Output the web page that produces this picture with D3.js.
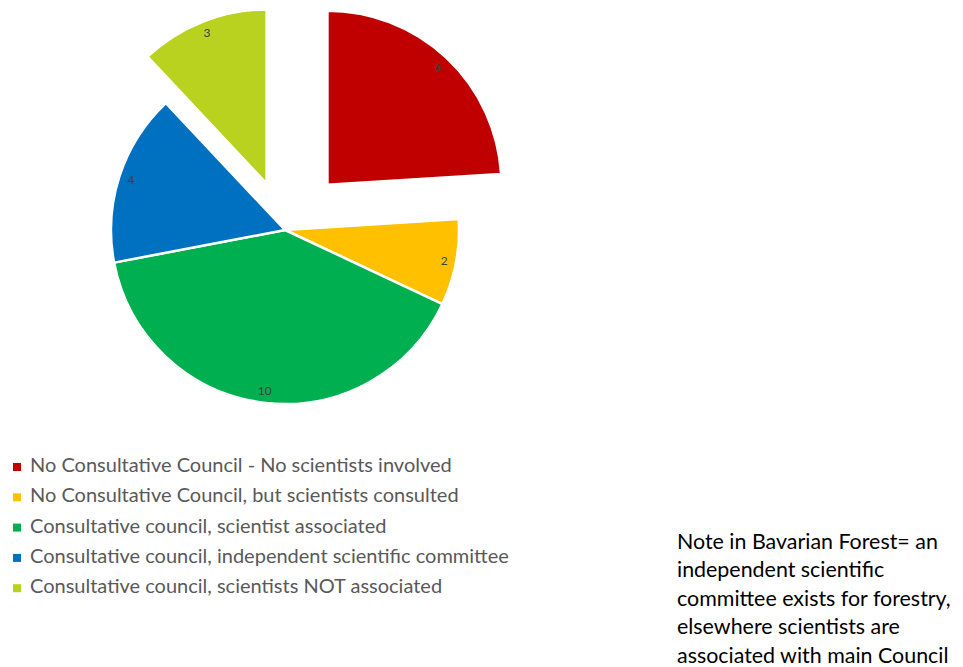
<!DOCTYPE html>
<html>
<head>
<meta charset="utf-8">
<script src="https://cdn.jsdelivr.net/npm/d3@7"></script>
<style>
  body { margin: 0; background: #fff; }
  svg { display: block; }
</style>
</head>
<body>
<div class="chart"></div>
<script>
const categories = [
    "No Consultative Council - No scientists involved",
    "No Consultative Council, but scientists consulted",
    "Consultative council, scientist associated",
    "Consultative council, independent scientific committee",
    "Consultative council, scientists NOT associated"
];
const counts = [6, 2, 10, 4, 3];
const colors = ["#C00000", "#FFC000", "#00B050", "#0070C0", "#B9D11F"];
const explode = [62, 0, 0, 0, 50];
const noteLines = [
    "Note in Bavarian Forest= an",
    "independent scientific",
    "committee exists for forestry,",
    "elsewhere scientists are",
    "associated with main Council"
];

const svgWidth = 963, svgHeight = 667;
const cx = 285, cy = 230, radius = 174;
const fontFamily = "Lato, 'Open Sans', sans-serif";

var svg = d3.select(".chart").append("svg")
    .attr("width", svgWidth)
    .attr("height", svgHeight);

var pie = d3.pie().sort(null).value(function (d) { return d.value; });
var arc = d3.arc().innerRadius(0).outerRadius(radius);
var labelArc = d3.arc().innerRadius(162).outerRadius(162);

var slices = pie(counts.map(function (v, i) {
    return { value: v, color: colors[i], explode: explode[i] };
}));

var sliceGroup = svg.selectAll("g.slice")
    .data(slices)
    .enter().append("g")
    .attr("class", "slice")
    .attr("transform", function (d) {
        var mid = (d.startAngle + d.endAngle) / 2;
        var dx = Math.sin(mid) * d.data.explode;
        var dy = -Math.cos(mid) * d.data.explode;
        return "translate(" + [cx + dx, cy + dy] + ")";
    });

sliceGroup.append("path")
    .attr("d", arc)
    .attr("fill", function (d) { return d.data.color; })
    .attr("stroke", "#fff")
    .attr("stroke-width", 2.5)
    .attr("stroke-linejoin", "round");

sliceGroup.append("text")
    .text(function (d) { return d.data.value; })
    .attr("x", function (d) { return labelArc.centroid(d)[0]; })
    .attr("y", function (d) { return labelArc.centroid(d)[1]; })
    .attr("text-anchor", "middle")
    .attr("dominant-baseline", "central")
    .style("font-family", fontFamily)
    .style("font-size", "12px")
    .style("fill", "#404040");

// fit a font size so a line has the width seen in the picture
function fitSize(str, targetWidth) {
    var t = svg.append("text").text(str)
        .style("font-family", fontFamily)
        .style("font-size", "100px");
    var w = t.node().getComputedTextLength();
    t.remove();
    return 100 * targetWidth / w;
}

// legend
var legendSize = fitSize(categories[0], 422);
var legendGroup = svg.selectAll("g.legend")
    .data(categories)
    .enter().append("g")
    .attr("class", "legend")
    .attr("transform", function (d, i) {
        return "translate(" + [13, 472 + i * 30.3] + ")";
    });

legendGroup.append("rect")
    .attr("x", 0)
    .attr("y", -9)
    .attr("width", 8)
    .attr("height", 8)
    .attr("fill", function (d, i) { return colors[i]; });

legendGroup.append("text")
    .text(function (d) { return d; })
    .attr("x", 17)
    .attr("y", 0)
    .style("font-family", fontFamily)
    .style("font-size", legendSize + "px")
    .style("fill", "#595959");

// note
var noteSize = fitSize(noteLines[0], 261);
svg.selectAll("text.note")
    .data(noteLines)
    .enter().append("text")
    .attr("class", "note")
    .text(function (d) { return d; })
    .attr("x", 677)
    .attr("y", function (d, i) { return 549 + i * 28.4; })
    .style("font-family", fontFamily)
    .style("font-size", noteSize + "px")
    .style("fill", "#000");
</script>
</body>
</html>
